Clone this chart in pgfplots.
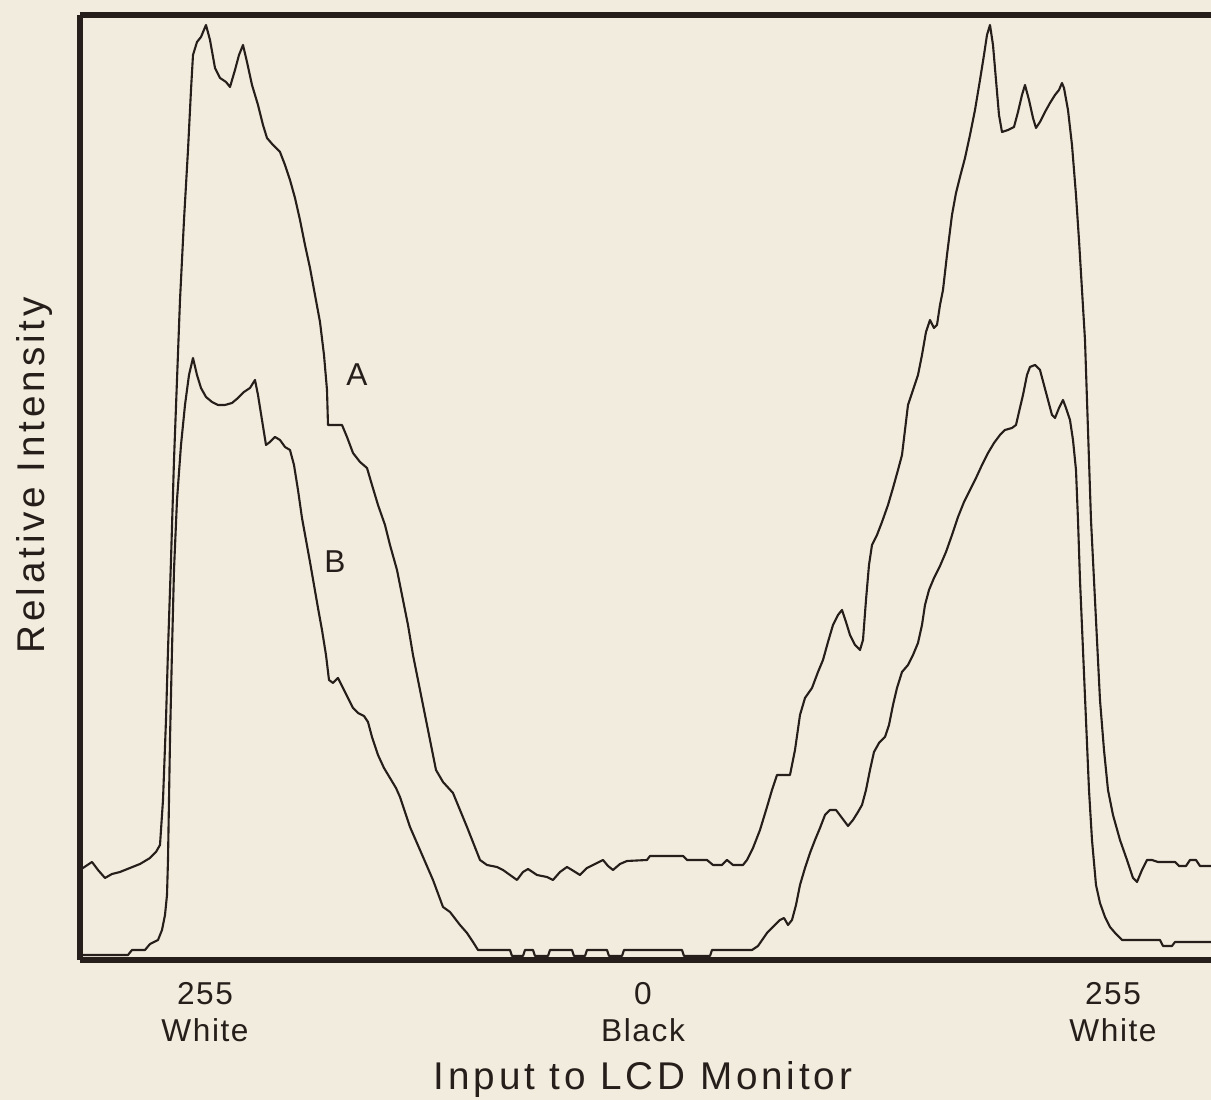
\documentclass[border=0pt]{standalone}
\usepackage{fontspec}
\setmainfont{Liberation Sans}
\newfontfamily\spacedfont[LetterSpace=10]{Liberation Sans}
\newfontfamily\tickfont[LetterSpace=5]{Liberation Sans}
\usepackage{pgfplots}
\pgfplotsset{compat=1.18}
\definecolor{ink}{RGB}{38,30,26}
\definecolor{paper}{RGB}{241,236,222}

\begin{document}
\begin{tikzpicture}
\fill[paper] (0,0) rectangle (121.1mm,110mm);
\begin{axis}[
  at={(8mm,14mm)}, anchor=south west,
  scale only axis, width=113.1mm, height=94.5mm,
  xmin=80, xmax=1211, ymin=0, ymax=945,
  axis x line=box, axis y line=left,
  axis line style={-, line width=1.5pt, ink},
  xtick={205,643,1113},
  xticklabels={{255\\White},{0\\Black},{255\\White}},
  major tick length=0pt,
  ytick=\empty,
  xticklabel style={align=center, font=\tickfont\fontsize{9}{10.5}\selectfont, text=ink, yshift=-1mm},
  xlabel={Input to LCD Monitor},
  ylabel={Relative Intensity},
  xlabel style={font=\spacedfont\fontsize{11}{13}\selectfont, text=ink, at={(axis description cs:0.4978,-0.127)}, anchor=center},
  ylabel style={font=\spacedfont\fontsize{11}{13}\selectfont, text=ink, at={(axis description cs:-0.0398,0.513)}, anchor=center},
  clip=true,
]
% Curve A
\addplot[ink, line width=0.6pt, line join=round, mark=none] coordinates {
(80,90) (86,94) (92,98) (98,90) (105,82) (112,86) (120,88) (130,92) (140,96) (150,102) (156,108) (160,115)
(163,160) (166,240) (168,310) (171,400) (174,500) (177,580) (180,660) (184,740) (188,810) (191,870) (193,905)
(197,918) (201,923) (206,935) (210,920) (215,892) (220,882) (226,878) (230,873) (235,890) (239,905) (243,915)
(247,898) (252,875) (258,855) (263,835) (267,822) (273,815) (280,808) (285,795) (290,780) (295,762) (300,740)
(305,715) (310,692) (315,665) (320,638) (324,605) (327,570) (328,535) (342,535) (347,523) (353,507) (360,498)
(367,492) (372,475) (378,455) (385,435) (390,415) (397,390) (403,360) (408,335) (413,305) (419,275) (425,245)
(430,220) (436,190) (443,178) (453,167) (467,133) (480,100) (487,95) (497,93) (503,90) (510,85) (517,80)
(523,88) (528,91) (537,85) (547,83) (553,80) (560,88) (567,93) (572,90) (580,85) (587,92) (593,95) (603,100)
(608,94) (613,90) (620,96) (627,99) (647,100) (650,104) (683,104) (687,100) (707,100) (713,95) (722,95)
(727,100) (733,95) (743,95) (747,100) (753,112) (760,130) (767,153) (772,170) (777,185) (790,185) (795,210)
(800,245) (805,262) (812,272) (818,288) (823,300) (828,318) (833,335) (838,345) (842,350) (846,338) (850,325)
(855,315) (860,310) (863,320) (866,360) (869,395) (872,415) (877,425) (882,438) (888,455) (893,472) (898,490)
(902,505) (905,530) (908,555) (913,570) (918,585) (922,605) (926,628) (930,640) (934,632) (937,635) (940,655)
(943,670) (947,705) (952,745) (956,767) (960,783) (965,802) (970,825) (975,850) (980,880) (984,905) (987,925)
(990,935) (993,915) (996,880) (999,845) (1002,828) (1008,830) (1014,833) (1018,848) (1022,865) (1025,875)
(1029,860) (1033,842) (1036,832) (1040,838) (1045,848) (1050,857) (1055,865) (1059,870) (1062,877) (1064,872)
(1068,850) (1072,815) (1076,765) (1079,720) (1082,670) (1085,620) (1087,560) (1089,500) (1091,440) (1094,380)
(1097,320) (1100,260) (1104,210) (1108,170) (1113,145) (1120,120) (1127,100) (1133,82) (1137,78) (1142,90)
(1147,100) (1152,100) (1158,98) (1175,98) (1179,94) (1186,94) (1190,100) (1196,100) (1200,94) (1211,94)
};
% Curve B
\addplot[ink, line width=0.6pt, line join=round, mark=none] coordinates {
(80,5) (128,5) (132,10) (145,10) (150,16) (158,20) (162,30) (165,45) (167,65) (168,100) (169,160) (170,220)
(172,310) (174,390) (177,460) (181,515) (185,555) (189,585) (193,602) (197,585) (201,572) (206,563) (212,558)
(218,555) (225,555) (232,557) (238,562) (244,568) (250,572) (255,580) (258,565) (262,540) (266,515) (270,518)
(275,523) (280,520) (285,513) (290,510) (294,495) (298,470) (302,442) (306,420) (310,398) (314,375) (318,352)
(322,330) (326,305) (329,280) (333,277) (338,282) (343,272) (348,262) (353,252) (358,247) (364,244) (368,238)
(372,223) (378,205) (384,192) (390,182) (396,172) (400,163) (410,133) (420,110) (433,80) (443,53) (450,48)
(460,35) (467,27) (473,18) (478,10) (510,10) (512,4) (523,4) (525,10) (533,10) (535,4) (548,4) (550,10)
(572,10) (574,4) (585,4) (587,10) (607,10) (609,4) (622,4) (624,10) (682,10) (684,4) (710,4) (712,10)
(752,10) (758,14) (767,27) (775,35) (780,40) (784,42) (788,35) (792,40) (796,55) (800,75) (805,92) (810,107)
(815,120) (820,132) (825,145) (830,150) (836,150) (842,142) (848,134) (853,140) (858,148) (862,155) (866,170)
(870,190) (874,208) (879,217) (885,223) (889,235) (893,255) (897,272) (902,288) (908,295) (913,305) (918,317)
(922,335) (925,355) (929,370) (934,382) (940,394) (946,408) (952,425) (958,443) (964,458) (970,470) (976,482)
(982,495) (988,507) (994,517) (1000,525) (1005,530) (1012,532) (1016,535) (1019,548) (1023,565) (1027,585)
(1030,593) (1035,595) (1040,590) (1044,575) (1048,560) (1052,545) (1055,542) (1059,552) (1063,560) (1066,552)
(1070,540) (1073,520) (1076,490) (1078,440) (1080,380) (1083,310) (1086,240) (1089,170) (1092,120) (1096,75)
(1100,57) (1105,43) (1110,33) (1116,26) (1122,20) (1160,20) (1163,14) (1172,14) (1175,18) (1211,18)
};
\node[font=\fontsize{9}{10}\selectfont, text=ink] at (axis cs:357,585) {A};
\node[font=\fontsize{9}{10}\selectfont, text=ink] at (axis cs:335,398) {B};
\end{axis}
\pgfresetboundingbox
\useasboundingbox (0,0) rectangle (121.1mm,110mm);
\end{tikzpicture}
\end{document}
